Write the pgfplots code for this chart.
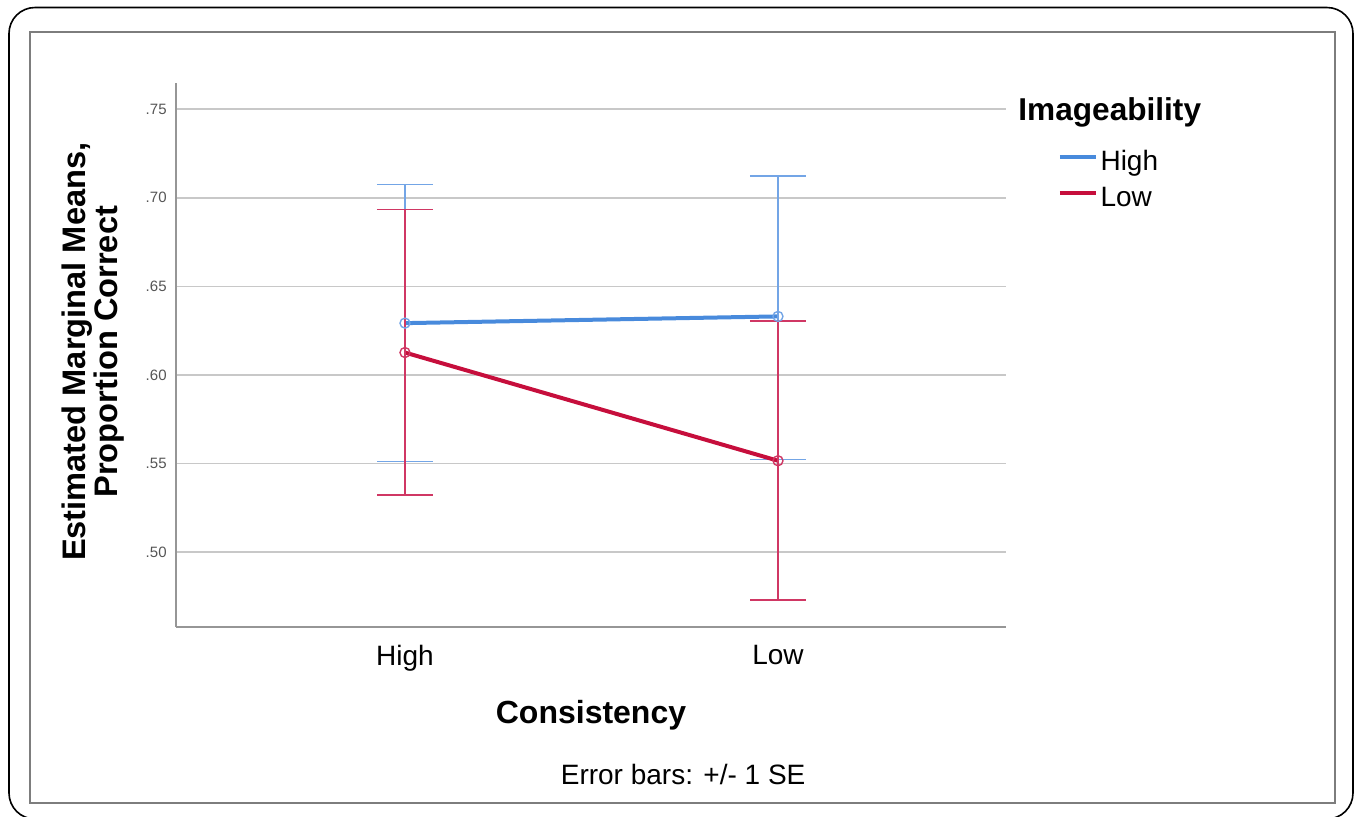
\documentclass[border=0pt]{standalone}
\usepackage{pgfplots}
\pgfplotsset{compat=1.18}
\usepackage{fontspec}
\setmainfont{Liberation Sans}
\definecolor{bluemain}{RGB}{72,138,220}
\definecolor{blueerr}{RGB}{115,165,230}
\definecolor{redmain}{RGB}{198,14,60}
\definecolor{rederr}{RGB}{208,55,100}
\definecolor{gridc}{RGB}{200,200,200}
\definecolor{spinec}{RGB}{150,150,150}
\definecolor{framec}{RGB}{125,125,125}
\definecolor{tickc}{RGB}{85,85,85}
\begin{document}
\begin{tikzpicture}
\useasboundingbox (0,0) rectangle (678.5pt,-408pt);
\draw[line width=0.8pt, rounded corners=13pt] (4.5pt,-3.75pt) rectangle (676.5pt,-409.5pt);
\draw[line width=1.3pt, framec] (15pt,-16pt) rectangle (667.5pt,-401.5pt);
\begin{axis}[
  at={(88pt,-313.5pt)}, anchor=south west,
  scale only axis, width=415pt, height=272pt,
  xmin=-0.6139, xmax=1.6113, ymin=0.4576, ymax=0.7648,
  axis x line*=bottom, axis y line*=left,
  axis line style={spinec, line width=0.7pt},
  xtick={0,1}, xticklabels={High,Low},
  ytick={0.5,0.55,0.6,0.65,0.7,0.75},
  yticklabels={.50,.55,.60,.65,.70,.75},
  major tick length=0pt,
  ymajorgrids, grid style={gridc, line width=0.8pt},
  xticklabel style={font=\fontsize{14}{16}\selectfont, inner sep=0pt, anchor=north, yshift=-9pt},
  yticklabel style={font=\fontsize{7.5}{9}\selectfont, text=tickc, inner sep=0pt, anchor=east, xshift=-4.5pt},
  xlabel={Consistency},
  xlabel style={at={(axis description cs:0.5,-0.1765)}, anchor=base, inner sep=0pt, font=\fontsize{16}{18}\selectfont\bfseries},
  ylabel={Estimated Marginal Means,\\Proportion Correct},
  ylabel style={at={(axis description cs:-0.1,0.506)}, anchor=center, rotate=0, align=center, inner sep=0pt, font=\fontsize{16.3}{14.5}\selectfont\bfseries},
  legend image code/.code={\draw[#1] (0pt,3.4pt) -- (18pt,3.4pt);},
  legend cell align=left,
  legend style={at={(axis description cs:1.0621,0.8768)}, anchor=north west, draw=none, fill=none, inner sep=0pt, row sep=4.5pt, column sep=1.3pt,
    nodes={inner sep=0pt, text height=10pt, text depth=3.5pt, font=\fontsize{14}{16}\selectfont}},
  clip=false,
]
\addplot[bluemain, line width=2pt, mark=o, mark size=2.5pt,
  mark options={line width=0.7pt, draw=blueerr, solid},
  forget plot,
  error bars/.cd, y dir=both, y explicit, error mark=|,
  error bar style={line width=0.8pt, blueerr},
  error mark options={mark size=14pt, line width=0.8pt, blueerr}]
  coordinates {(0,0.6292) += (0,0.0782) -= (0,0.0782)
               (1,0.6330) += (0,0.0794) -= (0,0.0809)};
\addplot[redmain, line width=2pt, mark=o, mark size=2.5pt,
  mark options={line width=0.7pt, draw=rederr, solid},
  forget plot,
  error bars/.cd, y dir=both, y explicit, error mark=|,
  error bar style={line width=0.8pt, rederr},
  error mark options={mark size=14pt, line width=0.8pt, rederr}]
  coordinates {(0,0.6126) += (0,0.0807) -= (0,0.0804)
               (1,0.5515) += (0,0.0790) -= (0,0.0786)};
\addlegendimage{bluemain, line width=2pt}
\addlegendentry{High}
\addlegendimage{redmain, line width=2pt}
\addlegendentry{Low}
\node[anchor=base west, inner sep=0pt, font=\fontsize{15.8}{18}\selectfont\bfseries] at (axis description cs:1.0145,0.9307) {Imageability};
\node[anchor=base, inner sep=0pt, font=\fontsize{14}{16}\selectfont] at (axis description cs:0.611,-0.2904) {Error bars: +/- 1 SE};
\end{axis}
\end{tikzpicture}
\end{document}
